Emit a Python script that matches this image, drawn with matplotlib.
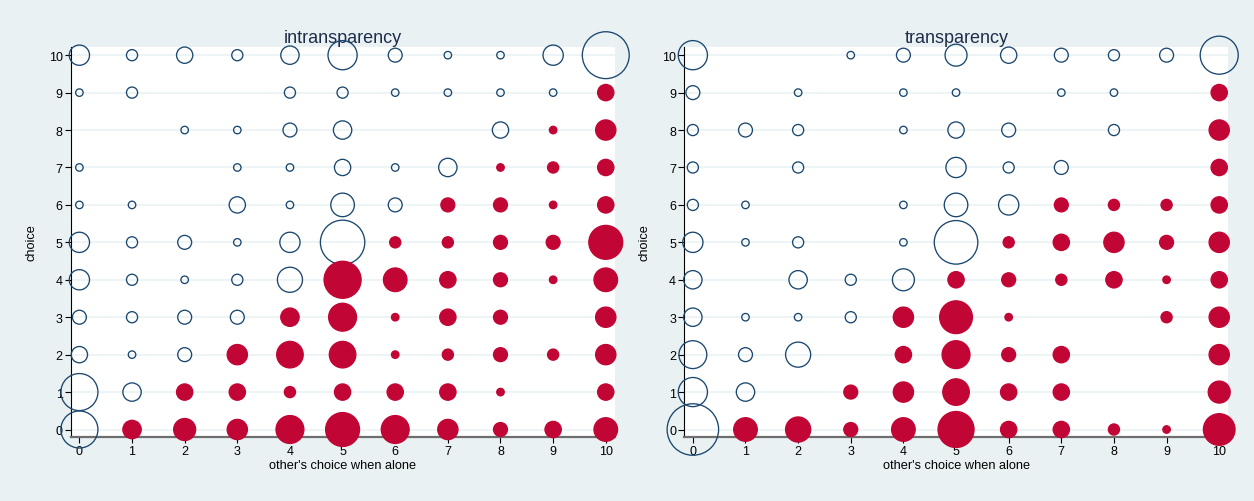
import numpy as np
import matplotlib
matplotlib.use("Agg")
import matplotlib.pyplot as plt
from matplotlib.patches import Rectangle

plt.rcParams['font.family'] = ['Liberation Sans', 'DejaVu Sans']

# choice values (y) and other's choice when alone (x)
choices = list(range(11))
others = list(range(11))

intransparency = [
    [19, 5, 7, 6, 11, 16, 11, 6, 3, 4, 8],
    [19, 5, 4, 4, 2, 4, 4, 4, 1, 0, 4],
    [4, 1, 3, 6, 10, 10, 1, 2, 3, 2, 6],
    [3, 2, 3, 3, 5, 11, 1, 4, 3, 0, 6],
    [6, 2, 1, 2, 9, 19, 8, 4, 3, 1, 8],
    [6, 2, 3, 1, 6, 27, 2, 2, 3, 3, 16],
    [1, 1, 0, 4, 1, 8, 3, 3, 3, 1, 4],
    [1, 0, 0, 1, 1, 4, 1, 5, 1, 2, 4],
    [0, 0, 1, 1, 3, 5, 0, 0, 4, 1, 6],
    [1, 2, 0, 0, 2, 2, 1, 1, 1, 1, 4],
    [6, 2, 4, 2, 5, 12, 3, 1, 1, 6, 30],
]

transparency = [
    [36, 8, 9, 3, 8, 18, 4, 4, 2, 1, 14],
    [12, 5, 0, 3, 6, 10, 4, 4, 0, 0, 7],
    [11, 3, 9, 0, 4, 11, 3, 4, 0, 0, 6],
    [5, 1, 1, 2, 6, 15, 1, 0, 0, 2, 6],
    [5, 0, 5, 2, 7, 4, 3, 2, 4, 1, 4],
    [6, 1, 2, 0, 1, 26, 2, 4, 6, 3, 6],
    [2, 1, 0, 0, 1, 8, 6, 3, 2, 2, 4],
    [2, 0, 2, 0, 0, 6, 2, 3, 0, 0, 4],
    [2, 3, 2, 0, 1, 4, 3, 0, 2, 0, 6],
    [3, 0, 1, 0, 1, 1, 0, 1, 1, 0, 4],
    [12, 0, 0, 1, 3, 7, 4, 3, 2, 3, 20],
]

titles = ["intransparency", "transparency"]
panels = [intransparency, transparency]

bg = "#e9f1f3"
navy = "#1a476f"
red = "#c10534"
lw = 0.95

fig = plt.figure(figsize=(12.54, 5.02), dpi=100, facecolor=bg)

lefts = [0.0566, 0.5458]
clip_x = [(0.0, 0.5), (0.5, 0.5)]

for k in range(2):
    ax = fig.add_axes([lefts[k], 0.1275, 0.4336, 0.777])
    ax.set_facecolor("white")
    counts = np.array(panels[k], dtype=float)
    xx, yy = np.meshgrid(others, choices)
    xx = xx.ravel(); yy = yy.ravel(); cc = counts.ravel()
    keep = cc > 0
    xx, yy, cc = xx[keep], yy[keep], cc[keep]
    # outer diameter in px ~ 8.8*sqrt(count), marker path is a bit smaller than outline
    d_px = 8.8 * np.sqrt(cc) - lw * 100 / 72
    s = (d_px * 72 / 100) ** 2
    hollow = yy >= xx
    clip = Rectangle((clip_x[k][0], 0), clip_x[k][1], 1, transform=fig.transFigure)
    sc1 = ax.scatter(xx[hollow], yy[hollow], s=s[hollow], facecolors="none",
                     edgecolors=navy, linewidths=lw, zorder=3, clip_on=False)
    sc2 = ax.scatter(xx[~hollow], yy[~hollow], s=s[~hollow], facecolors=red,
                     edgecolors=red, linewidths=lw, zorder=3, clip_on=False)
    sc1.set_clip_path(clip)
    sc2.set_clip_path(clip)

    ax.set_xlim(-0.16, 10.17)
    ax.set_ylim(-0.2, 10.22)
    ax.set_xticks(others)
    ax.set_yticks(choices)
    ax.yaxis.grid(True, color="#eaf2f3", linewidth=1.2, zorder=0)
    ax.set_axisbelow(True)
    for sp in ["top", "right"]:
        ax.spines[sp].set_visible(False)
    ax.spines["left"].set_color("black")
    ax.spines["left"].set_linewidth(0.8)
    ax.spines["bottom"].set_color("#6e6e6e")
    ax.spines["bottom"].set_linewidth(1.6)
    ax.tick_params(axis="both", direction="out", length=4, width=0.8,
                   labelsize=9, colors="black", pad=2)
    ax.set_xlabel("other's choice when alone", fontsize=9.2, labelpad=1)
    ax.set_ylabel("choice", fontsize=9.2, labelpad=8)
    t = ax.set_title(titles[k], fontsize=13, color="#1e2d4a", pad=3.5)
    t.set_zorder(1)

fig.savefig("out.png", dpi=100, facecolor=bg)
